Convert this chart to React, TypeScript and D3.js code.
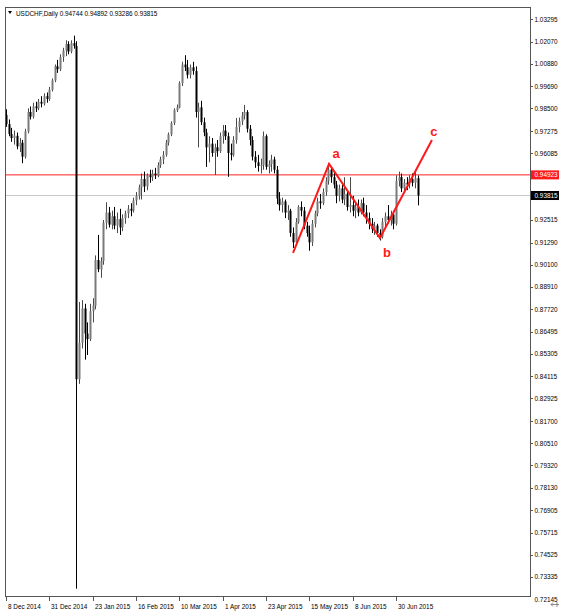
import React from "react";
import * as d3 from "d3";

// ---- data (USDCHF daily, bar index 0 = 8 Dec 2014) ----
const OPEN = [
  0.9814,0.9765,0.9712,0.9690,0.9702,0.9645,0.9665,0.9590,0.9725,0.9830,
  0.9805,0.9860,0.9850,0.9885,0.9875,0.9915,0.9900,0.9950,1.0000,1.0075,
  1.0060,1.0125,1.0160,1.0195,1.0155,1.0200,1.0185,0.8395,0.8590,0.8775,
  0.8640,0.8610,0.8760,0.8790,0.9035,0.8985,0.9030,0.9235,0.9290,0.9225,
  0.9270,0.9220,0.9255,0.9210,0.9260,0.9285,0.9310,0.9300,0.9355,0.9380,
  0.9425,0.9470,0.9430,0.9490,0.9480,0.9500,0.9490,0.9545,0.9575,0.9600,
  0.9665,0.9710,0.9770,0.9840,0.9855,0.9985,1.0085,1.0070,1.0030,1.0070,
  1.0050,0.9830,0.9855,0.9775,0.9720,0.9640,0.9660,0.9610,0.9640,0.9620,
  0.9700,0.9730,0.9700,0.9610,0.9600,0.9680,0.9750,0.9780,0.9810,0.9830,
  0.9740,0.9680,0.9590,0.9560,0.9540,0.9545,0.9700,0.9535,0.9550,0.9575,
  0.9520,0.9365,0.9330,0.9350,0.9290,0.9300,0.9180,0.9130,0.9240,0.9320,
  0.9300,0.9220,0.9180,0.9130,0.9230,0.9285,0.9350,0.9340,0.9400,0.9460,
  0.9520,0.9480,0.9440,0.9380,0.9420,0.9360,0.9390,0.9320,0.9330,0.9300,
  0.9320,0.9290,0.9340,0.9290,0.9260,0.9230,0.9200,0.9220,0.9180,0.9160,
  0.9240,0.9270,0.9250,0.9280,0.9230,0.9460,0.9480,0.9420,0.9450,0.9440,
  0.9470,0.9450,0.94744,
];
const HIGH = [
  0.9845,0.9790,0.9745,0.9730,0.9720,0.9690,0.9680,0.9740,0.9850,0.9860,
  0.9880,0.9885,0.9900,0.9915,0.9930,0.9935,0.9965,1.0010,1.0085,1.0110,
  1.0140,1.0175,1.0215,1.0210,1.0215,1.0240,1.0210,0.8810,0.8820,0.8800,
  0.8700,0.8800,0.8830,0.9060,0.9170,0.9050,0.9250,0.9345,0.9320,0.9300,
  0.9320,0.9290,0.9310,0.9280,0.9300,0.9330,0.9340,0.9370,0.9400,0.9440,
  0.9500,0.9510,0.9500,0.9520,0.9520,0.9530,0.9560,0.9590,0.9620,0.9680,
  0.9720,0.9780,0.9850,0.9870,0.9995,1.0100,1.0135,1.0110,1.0085,1.0100,
  1.0075,0.9880,0.9890,0.9800,0.9740,0.9700,0.9690,0.9660,0.9680,0.9720,
  0.9760,0.9760,0.9720,0.9660,0.9700,0.9798,0.9800,0.9830,0.9868,0.9840,
  0.9760,0.9700,0.9620,0.9600,0.9580,0.9725,0.9710,0.9570,0.9600,0.9590,
  0.9540,0.9400,0.9370,0.9360,0.9330,0.9310,0.9210,0.9260,0.9330,0.9350,
  0.9320,0.9240,0.9220,0.9250,0.9300,0.9370,0.9390,0.9420,0.9480,0.9555,
  0.9540,0.9510,0.9460,0.9440,0.9440,0.9480,0.9410,0.9480,0.9380,0.9340,
  0.9360,0.9360,0.9370,0.9330,0.9290,0.9260,0.9240,0.9230,0.9200,0.9260,
  0.9290,0.9330,0.9300,0.9300,0.9490,0.9510,0.9500,0.9470,0.9480,0.9490,
  0.9500,0.9515,0.94892,
];
const LOW = [
  0.9750,0.9700,0.9670,0.9655,0.9630,0.9615,0.9555,0.9580,0.9715,0.9790,
  0.9795,0.9830,0.9840,0.9855,0.9865,0.9880,0.9890,0.9940,0.9990,1.0040,
  1.0050,1.0100,1.0130,1.0140,1.0145,1.0170,0.7270,0.8370,0.8560,0.8500,
  0.8525,0.8600,0.8700,0.8770,0.8970,0.8940,0.9010,0.9200,0.9210,0.9200,
  0.9200,0.9180,0.9170,0.9190,0.9230,0.9260,0.9270,0.9290,0.9330,0.9360,
  0.9360,0.9400,0.9410,0.9450,0.9460,0.9470,0.9480,0.9530,0.9550,0.9590,
  0.9650,0.9700,0.9760,0.9830,0.9850,0.9970,1.0050,1.0010,1.0010,1.0030,
  0.9800,0.9640,0.9760,0.9700,0.9535,0.9560,0.9590,0.9492,0.9590,0.9610,
  0.9660,0.9680,0.9482,0.9570,0.9590,0.9660,0.9720,0.9760,0.9790,0.9720,
  0.9650,0.9570,0.9530,0.9510,0.9500,0.9520,0.9520,0.9500,0.9510,0.9500,
  0.9335,0.9300,0.9290,0.9260,0.9250,0.9160,0.9100,0.9120,0.9230,0.9270,
  0.9200,0.9160,0.9085,0.9110,0.9210,0.9270,0.9310,0.9330,0.9380,0.9440,
  0.9450,0.9420,0.9340,0.9350,0.9340,0.9330,0.9300,0.9290,0.9270,0.9260,
  0.9270,0.9280,0.9270,0.9230,0.9200,0.9180,0.9170,0.9160,0.9140,0.9150,
  0.9210,0.9230,0.9220,0.9200,0.9220,0.9430,0.9400,0.9400,0.9410,0.9420,
  0.9430,0.9420,0.93286,
];
const CLOSE = [
  0.9765,0.9712,0.9690,0.9702,0.9645,0.9665,0.9590,0.9725,0.9830,0.9805,
  0.9860,0.9850,0.9885,0.9875,0.9915,0.9900,0.9950,1.0000,1.0075,1.0060,
  1.0125,1.0160,1.0195,1.0155,1.0200,1.0185,0.8395,0.8590,0.8775,0.8640,
  0.8610,0.8760,0.8790,0.9035,0.8985,0.9030,0.9235,0.9290,0.9225,0.9270,
  0.9220,0.9255,0.9210,0.9260,0.9285,0.9310,0.9300,0.9355,0.9380,0.9425,
  0.9470,0.9430,0.9490,0.9480,0.9500,0.9490,0.9545,0.9575,0.9600,0.9665,
  0.9710,0.9770,0.9840,0.9855,0.9985,1.0085,1.0070,1.0030,1.0070,1.0050,
  0.9830,0.9855,0.9775,0.9720,0.9640,0.9660,0.9610,0.9640,0.9620,0.9700,
  0.9730,0.9700,0.9610,0.9600,0.9680,0.9750,0.9780,0.9810,0.9830,0.9740,
  0.9680,0.9590,0.9560,0.9540,0.9545,0.9700,0.9535,0.9550,0.9575,0.9520,
  0.9365,0.9330,0.9350,0.9290,0.9300,0.9180,0.9130,0.9240,0.9320,0.9300,
  0.9220,0.9180,0.9130,0.9230,0.9285,0.9350,0.9340,0.9400,0.9460,0.9520,
  0.9480,0.9440,0.9380,0.9420,0.9360,0.9390,0.9320,0.9330,0.9300,0.9320,
  0.9290,0.9340,0.9290,0.9260,0.9230,0.9200,0.9220,0.9180,0.9160,0.9240,
  0.9270,0.9250,0.9280,0.9230,0.9460,0.9480,0.9420,0.9450,0.9440,0.9470,
  0.9450,0.9474,0.93815,
];

const DATE_LABELS = [
  "8 Dec 2014", "31 Dec 2014", "23 Jan 2015", "16 Feb 2015", "10 Mar 2015",
  "1 Apr 2015", "23 Apr 2015", "15 May 2015", "8 Jun 2015", "30 Jun 2015",
];
const DATE_INDEX = [0, 16, 32, 48, 64, 80, 96, 112, 128, 144];

const PRICE_TICKS = [
  1.03295, 1.0207, 1.0088, 0.9969, 0.985, 0.97275, 0.96085, 0.92515, 0.9129,
  0.901, 0.8891, 0.8772, 0.86495, 0.85305, 0.84115, 0.82925, 0.817, 0.8051,
  0.7932, 0.7813, 0.76905, 0.75715, 0.74525, 0.73335, 0.72145,
];
const PRICE_TICK_LABELS = [
  "1.03295", "1.02070", "1.00880", "0.99690", "0.98500", "0.97275", "0.96085",
  "0.92515", "0.91290", "0.90100", "0.88910", "0.87720", "0.86495", "0.85305",
  "0.84115", "0.82925", "0.81700", "0.80510", "0.79320", "0.78130", "0.76905",
  "0.75715", "0.74525", "0.73335", "0.72145",
];

const LEVEL_PRICE = 0.94923;
const BID_PRICE = 0.93815;
const HEADER = "USDCHF,Daily  0.94744 0.94892 0.93286 0.93815";

const WAVE_INDEX = [106.0, 119.3, 138.1, 157.3];
const WAVE_PRICE = [0.9073, 0.9551, 0.9153, 0.968];
const WAVE_LABELS = ["", "a", "b", "c"];

// ---- layout ----
const W = 564;
const H = 614;
const PL = 5;
const PR = 530;
const PT = 7;
const PB = 596;

const FONT = "'Liberation Sans', Arial, sans-serif";
const FS = 6.4;

export default function App() {
  const x = d3.scaleLinear().domain([0, 152]).range([6, 417.6]);
  const y = d3.scaleLinear().domain([0.72145, 1.03295]).range([599, 19]);

  const bars = d3.range(CLOSE.length);
  const waveLine = d3
    .line<number>()
    .x((i) => x(WAVE_INDEX[i]))
    .y((i) => y(WAVE_PRICE[i]));

  const labelOffsets = [
    [0, 0],
    [7, -10],
    [7, 14],
    [2, -8],
  ];

  return (
    <svg
      width={W}
      height={H}
      style={{ position: "absolute", left: 0, top: 0, background: "#fff" }}
      fontFamily={FONT}
    >
      <defs>
        <clipPath id="plot">
          <rect x={PL + 1} y={PT + 1} width={PR - PL - 1} height={PB - PT - 1} />
        </clipPath>
      </defs>
      <rect x={0} y={0} width={W} height={H} fill="#fff" />

      <g clipPath="url(#plot)">
        {/* level lines */}
        <line x1={PL} x2={PR} y1={y(BID_PRICE)} y2={y(BID_PRICE)} stroke="#c8c8c8" strokeWidth={1} />
        <line x1={PL} x2={PR} y1={y(LEVEL_PRICE)} y2={y(LEVEL_PRICE)} stroke="#ff2020" strokeWidth={1} />

        {/* candles */}
        {bars.map((i) => {
          const o = OPEN[i];
          const c = CLOSE[i];
          const bull = c >= o;
          const cx = Math.round(x(i)) + 0.5;
          const top = y(Math.max(o, c));
          const bot = y(Math.min(o, c));
          return (
            <g key={i}>
              <line
                x1={cx}
                x2={cx}
                y1={y(HIGH[i])}
                y2={y(LOW[i])}
                stroke={bull ? "#4a4a4a" : "#000"}
                strokeWidth={1}
              />
              <rect
                x={cx - 1}
                y={top}
                width={2}
                height={Math.max(1, bot - top)}
                fill={bull ? "#7a7a7a" : "#000"}
              />
            </g>
          );
        })}

        {/* zigzag */}
        <path
          d={waveLine(d3.range(WAVE_INDEX.length)) || ""}
          fill="none"
          stroke="#ff1a1a"
          strokeWidth={2}
          strokeLinejoin="miter"
        />
      </g>

      {WAVE_LABELS.map((t, i) =>
        t ? (
          <text
            key={t}
            x={x(WAVE_INDEX[i]) + labelOffsets[i][0]}
            y={y(WAVE_PRICE[i]) + labelOffsets[i][1]}
            textAnchor="middle"
            dominantBaseline="central"
            fontSize={13}
            fontWeight="bold"
            fill="#ff1a1a"
          >
            {t}
          </text>
        ) : null
      )}

      {/* frame */}
      <rect x={PL + 0.5} y={PT + 0.5} width={PR - PL} height={PB - PT} fill="none" stroke="#555" strokeWidth={1} />

      {/* header */}
      <path d="M8,11 L12,11 L10,14 Z" fill="#000" />
      <text x={16} y={13} fontSize={FS} dominantBaseline="central" fill="#000">
        {HEADER}
      </text>

      {/* price axis */}
      {PRICE_TICKS.map((p, i) => (
        <g key={p}>
          {y(p) < PB && (
            <line x1={PR} x2={PR + 3} y1={Math.round(y(p)) + 0.5} y2={Math.round(y(p)) + 0.5} stroke="#555" />
          )}
          <text x={PR + 4.5} y={y(p)} fontSize={FS} dominantBaseline="central" fill="#000">
            {PRICE_TICK_LABELS[i]}
          </text>
        </g>
      ))}

      {/* level label */}
      <rect x={PR + 1} y={y(LEVEL_PRICE) - 4.5} width={28} height={9} fill="#ff1a1a" />
      <text x={PR + 4.5} y={y(LEVEL_PRICE)} fontSize={FS} dominantBaseline="central" fill="#fff">
        {LEVEL_PRICE.toFixed(5)}
      </text>
      <rect x={PR + 1} y={y(BID_PRICE) - 4.5} width={28} height={9} fill="#000" />
      <text x={PR + 4.5} y={y(BID_PRICE)} fontSize={FS} dominantBaseline="central" fill="#fff">
        {BID_PRICE.toFixed(5)}
      </text>

      {/* time axis */}
      {DATE_INDEX.map((d, i) => {
        const tx = Math.round(x(d)) + 0.5;
        return (
          <g key={d}>
            <line x1={tx} x2={tx} y1={PB} y2={PB + 5} stroke="#555" />
            <text x={tx + 1.5} y={606} fontSize={FS} dominantBaseline="central" fill="#000">
              {DATE_LABELS[i]}
            </text>
          </g>
        );
      })}

      {/* corner glyph */}
      <path d="M551,604.5 L559,604.5 M551,604.5 L553,602.5 M551,604.5 L553,606.5 M557,602 L557,607" stroke="#888" fill="none" />
    </svg>
  );
}
